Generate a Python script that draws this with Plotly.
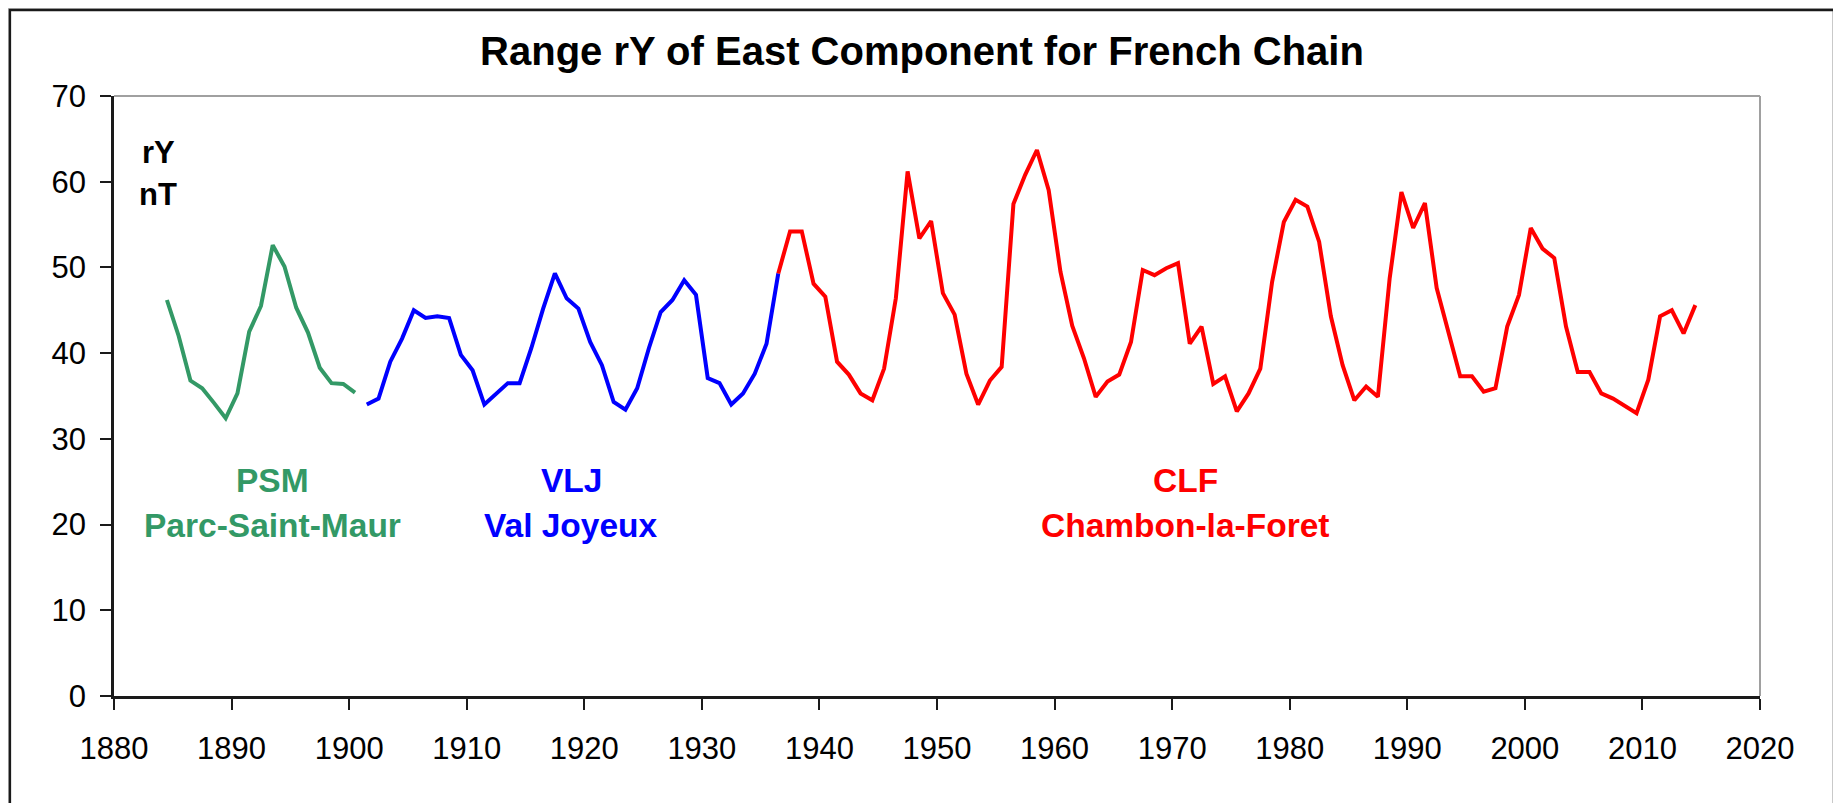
import plotly.graph_objects as go

# ---- data (annual values, plotted at mid-year) ----
psm_years = [1884.5, 1885.5, 1886.5, 1887.5, 1888.5, 1889.5, 1890.5, 1891.5, 1892.5,
             1893.5, 1894.5, 1895.5, 1896.5, 1897.5, 1898.5, 1899.5, 1900.5]
psm_vals = [46.2, 42.0, 36.8, 35.9, 34.2, 32.4, 35.3, 42.5, 45.5,
            52.6, 50.1, 45.3, 42.4, 38.3, 36.5, 36.4, 35.4]

vlj_years = [1901.5, 1902.5, 1903.5, 1904.5, 1905.5, 1906.5, 1907.5, 1908.5, 1909.5,
             1910.5, 1911.5, 1912.5, 1913.5, 1914.5, 1915.5, 1916.5, 1917.5, 1918.5,
             1919.5, 1920.5, 1921.5, 1922.5, 1923.5, 1924.5, 1925.5, 1926.5, 1927.5,
             1928.5, 1929.5, 1930.5, 1931.5, 1932.5, 1933.5, 1934.5, 1935.5, 1936.5]
vlj_vals = [34.0, 34.7, 39.0, 41.7, 45.0, 44.1, 44.3, 44.1, 39.8,
            38.0, 34.0, 35.3, 36.5, 36.5, 40.6, 45.2, 49.3, 46.4,
            45.2, 41.3, 38.6, 34.3, 33.4, 35.9, 40.6, 44.8, 46.2,
            48.5, 46.8, 37.1, 36.5, 34.0, 35.3, 37.6, 41.1, 49.3]

clf_years = [1936.5, 1937.5, 1938.5, 1939.5, 1940.5, 1941.5, 1942.5, 1943.5, 1944.5,
             1945.5, 1946.5, 1947.5, 1948.5, 1949.5, 1950.5, 1951.5, 1952.5, 1953.5,
             1954.5, 1955.5, 1956.5, 1957.5, 1958.5, 1959.5, 1960.5, 1961.5, 1962.5,
             1963.5, 1964.5, 1965.5, 1966.5, 1967.5, 1968.5, 1969.5, 1970.5, 1971.5,
             1972.5, 1973.5, 1974.5, 1975.5, 1976.5, 1977.5, 1978.5, 1979.5, 1980.5,
             1981.5, 1982.5, 1983.5, 1984.5, 1985.5, 1986.5, 1987.5, 1988.5, 1989.5,
             1990.5, 1991.5, 1992.5, 1993.5, 1994.5, 1995.5, 1996.5, 1997.5, 1998.5,
             1999.5, 2000.5, 2001.5, 2002.5, 2003.5, 2004.5, 2005.5, 2006.5, 2007.5,
             2008.5, 2009.5, 2010.5, 2011.5, 2012.5, 2013.5, 2014.5]
clf_vals = [49.3, 54.2, 54.2, 48.1, 46.6, 39.0, 37.5, 35.3, 34.5,
            38.2, 46.4, 61.2, 53.4, 55.4, 47.0, 44.5, 37.6, 34.0,
            36.8, 38.4, 57.4, 60.8, 63.7, 59.0, 49.5, 43.2, 39.4,
            34.9, 36.7, 37.5, 41.3, 49.7, 49.1, 49.9, 50.5, 41.1,
            43.1, 36.4, 37.3, 33.2, 35.3, 38.2, 48.3, 55.3, 57.9,
            57.1, 53.0, 44.3, 38.6, 34.5, 36.1, 34.9, 48.7, 58.8,
            54.6, 57.5, 47.6, 42.5, 37.3, 37.3, 35.5, 35.9, 43.1,
            46.8, 54.6, 52.2, 51.1, 43.1, 37.8, 37.8, 35.3, 34.7,
            33.8, 33.0, 36.9, 44.3, 45.0, 42.3, 45.6]

x_ticks = [1880, 1890, 1900, 1910, 1920, 1930, 1940, 1950, 1960, 1970, 1980, 1990, 2000, 2010, 2020]
y_ticks = [0, 10, 20, 30, 40, 50, 60, 70]

GREEN = "#339966"
BLUE = "#0000FF"
RED = "#FF0000"
FONT = "Liberation Sans, Arial, sans-serif"

# The page body has an 8px default margin; work in page pixels and shift.
OFF = 8
W, H = 1841 - OFF, 803 - OFF
PX0, PX1 = 114.4 - OFF, 1760 - OFF   # plot area left/right in figure px
PY0, PY1 = 96 - OFF, 696 - OFF       # plot area top/bottom in figure px
L, R, T, B = PX0, W - PX1, PY0, H - PY1

fig = go.Figure()
for xs, ys, c in [(psm_years, psm_vals, GREEN), (vlj_years, vlj_vals, BLUE), (clf_years, clf_vals, RED)]:
    fig.add_trace(go.Scatter(x=xs, y=ys, mode="lines", line=dict(color=c, width=4),
                             showlegend=False, hoverinfo="skip"))

def ann(text, x, y, color, size=33.5):
    fig.add_annotation(x=x, y=y, xref="x", yref="y", text="<b>%s</b>" % text, showarrow=False,
                       font=dict(family=FONT, size=size, color=color), xanchor="center", yanchor="middle")

ann("rY", 1883.8, 63.4, "black", 31)
ann("nT", 1883.7, 58.5, "black", 31)
ann("PSM", 1893.5, 25.2, GREEN)
ann("Parc-Saint-Maur", 1893.5, 19.9, GREEN)
ann("VLJ", 1918.9, 25.2, BLUE)
ann("Val Joyeux", 1918.9, 19.9, BLUE)
ann("CLF", 1971.1, 25.2, RED)
ann("Chambon-la-Foret", 1971.1, 19.9, RED)

pw = PX1 - PX0
ph = PY1 - PY0
def px(v):  # page px -> paper x
    return (v - OFF - PX0) / pw
def py(v):  # page px -> paper y
    return (PY1 - (v - OFF)) / ph

shapes = [
    # outer chart frame: light shadow + dark line
    dict(type="rect", xref="paper", yref="paper", x0=px(8.3), x1=px(1836), y0=py(840), y1=py(8.3),
         line=dict(color="#c0c0c0", width=1.5), fillcolor="rgba(0,0,0,0)", layer="below"),
    dict(type="rect", xref="paper", yref="paper", x0=px(10.3), x1=px(1834), y0=py(840), y1=py(10),
         line=dict(color="#1a1a1a", width=2.5), fillcolor="rgba(0,0,0,0)", layer="below"),
    # plot area top and right border (gray)
    dict(type="line", xref="paper", yref="paper", x0=0, x1=1, y0=1, y1=1,
         line=dict(color="#a0a0a0", width=2)),
    dict(type="line", xref="paper", yref="paper", x0=1, x1=1, y0=0, y1=1,
         line=dict(color="#a0a0a0", width=2)),
]

fig.update_layout(
    width=W, height=H,
    margin=dict(l=L, r=R, t=T, b=B, autoexpand=False),
    paper_bgcolor="white", plot_bgcolor="white",
    shapes=shapes,
    title=dict(text="<b>Range rY of East Component for French Chain</b>",
               x=(922 - OFF) / W, xref="container", xanchor="center",
               y=1 - (51 - OFF) / H, yref="container", yanchor="middle",
               font=dict(family=FONT, size=40, color="black")),
    xaxis=dict(range=[1880, 2020], tickmode="array", tickvals=x_ticks, ticktext=[str(t) for t in x_ticks],
               showgrid=False, zeroline=False, showline=True, linecolor="#1a1a1a", linewidth=2.5,
               ticks="outside", ticklen=11, tickwidth=2, tickcolor="#1a1a1a",
               tickfont=dict(family=FONT, size=31, color="black"), ticklabelstandoff=12, fixedrange=True),
    yaxis=dict(range=[0, 70], tickmode="array", tickvals=y_ticks, ticktext=[str(t) for t in y_ticks],
               showgrid=False, zeroline=False, showline=True, linecolor="#1a1a1a", linewidth=2.5,
               ticks="outside", ticklen=11, tickwidth=2, tickcolor="#1a1a1a",
               tickfont=dict(family=FONT, size=31, color="black"), ticklabelstandoff=8, fixedrange=True),
)

fig.write_html("out.html")
